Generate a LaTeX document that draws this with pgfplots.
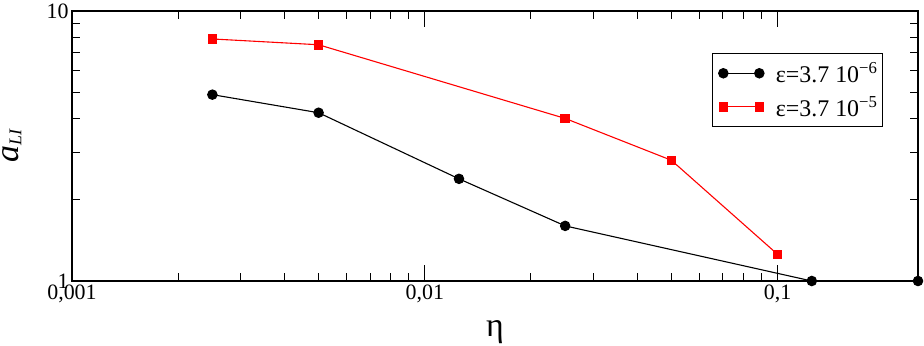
\documentclass[border=0pt]{standalone}
\usepackage{fontspec}
\setmainfont{Liberation Serif}
\usepackage{pgfplots}
\pgfplotsset{compat=1.18}
\begin{document}
\begin{tikzpicture}
\begin{axis}[
  name=ax,
  at={(0,0)}, anchor=south west,
  scale only axis, width=846bp, height=270bp,
  xmode=log, ymode=log,
  xmin=0.001, xmax=0.25, ymin=1, ymax=10,
  axis line style={line width=1.6bp},
  every tick/.style={black, line width=1bp},
  major tick length=16bp, minor tick length=8bp,
  tick align=inside,
  xtick={0.001,0.01,0.1}, xticklabels={{0,001},{0,01},{0,1}},
  ytick={1,10}, yticklabels={1,10},
  tick label style={font=\fontsize{22}{22}\selectfont},
  xlabel={\fontsize{34}{34}\selectfont η},
  every axis x label/.style={at={(rel axis cs:0.5,-0.205)}, anchor=base, inner sep=0pt},
  ylabel={{\fontsize{34}{34}\selectfont\itshape a}\raisebox{-3bp}{\fontsize{18}{18}\selectfont\itshape LI}},
  every axis y label/.style={at={(rel axis cs:-0.0595,0.5)}, rotate=90, anchor=south, inner sep=0pt},
  legend style={at={(rel axis cs:1,1)}, anchor=north east, xshift=-35bp, yshift=-42bp,
    draw=black, line width=1bp, font=\fontsize{24}{24}\selectfont,
    row sep=8bp, inner xsep=3bp, inner ysep=7bp},
  legend cell align=left,
  legend image code/.code={\path (-7bp,0bp) (50bp,0bp);\draw[#1] plot coordinates {(0bp,0bp) (36bp,0bp)};},
  clip=false,
]
\addplot[black, line width=1.1bp, mark=*, mark size=4.7bp] coordinates {
  (0.0025,4.9) (0.005,4.2) (0.0125,2.39) (0.025,1.6) (0.125,1.0) (0.25,1.0)
};
\addlegendentry{ε=3.7 10\textsuperscript{−6}}
\addplot[red, line width=1.1bp, mark=square*, mark size=4.2bp] coordinates {
  (0.0025,7.88) (0.005,7.5) (0.025,4.0) (0.05,2.8) (0.1,1.255)
};
\addlegendentry{ε=3.7 10\textsuperscript{−5}}
\end{axis}
\pgfresetboundingbox
\useasboundingbox (-72bp,-65bp) rectangle (852bp,281bp);
\end{tikzpicture}
\end{document}
